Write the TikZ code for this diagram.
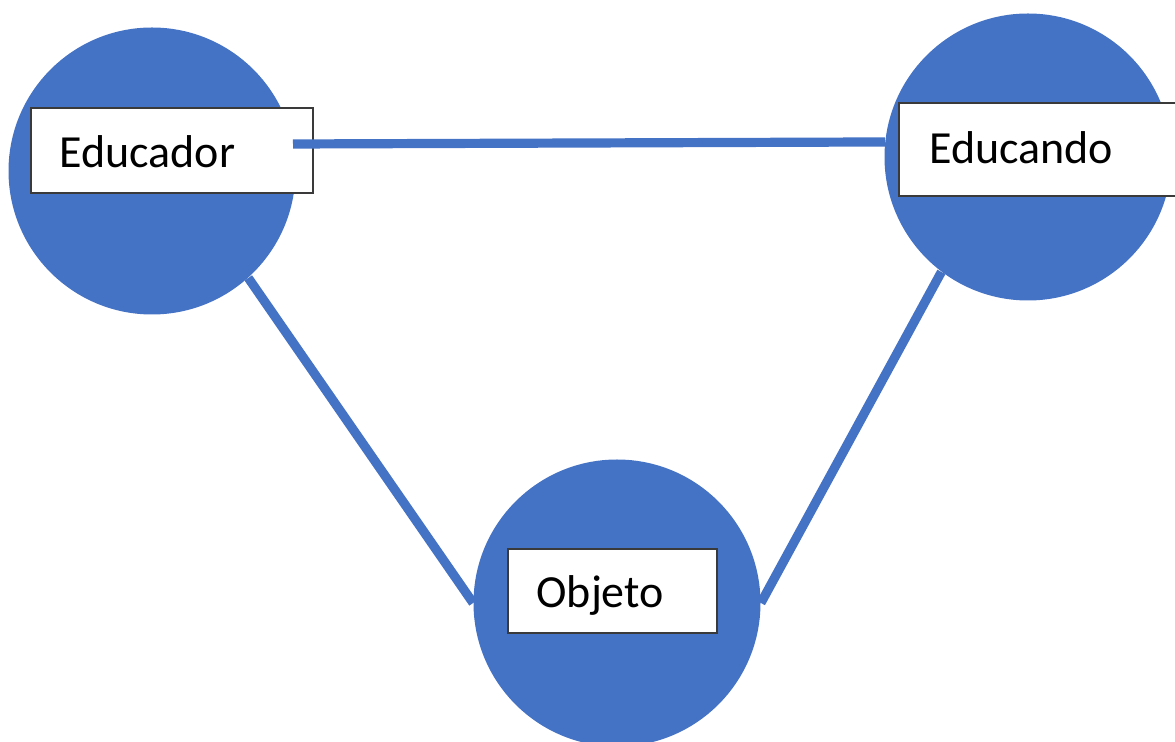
\documentclass[tikz,border=0pt]{standalone}
\usepackage{fontspec}
\setmainfont{Carlito}
\usetikzlibrary{calc}
\definecolor{discblue}{HTML}{4472C4}
\definecolor{boxline}{HTML}{3A3A3A}
\begin{document}
\begin{tikzpicture}[x=0.5pt,y=-0.5pt,
  disc/.style={circle,fill=discblue,draw=none,minimum size=143.5pt,inner sep=0pt},
  labelbox/.style={rectangle,fill=white,draw=boxline,line width=1pt,inner sep=0pt},
  word/.style={anchor=base west,inner sep=0pt,font=\fontsize{23}{27}\selectfont},
  link/.style={draw=discblue,line width=4.6pt}]
  \useasboundingbox (0,0) rectangle (1175,742);

  % the three discs
  \node[disc] (edr) at (152,171) {};
  \node[disc] (edn) at (1028,157) {};
  \node[disc] (obj) at (617,603) {};

  % label boxes
  \node[labelbox,minimum width=141pt,minimum height=42.5pt] (edrbox) at (172,150.5) {};
  \node[labelbox,minimum width=143pt,minimum height=46.5pt] (ednbox) at (1042,149.5) {};
  \node[labelbox,minimum width=104.5pt,minimum height=42pt] (objbox) at (612.5,591) {};

  % label texts
  \node[word] (edrtxt) at ($(edrbox.north west)+(29,61)$) {Educador};
  \node[word] (edntxt) at ($(ednbox.north west)+(31,62)$) {Educando};
  \node[word] (objtxt) at ($(objbox.north west)+(29,60)$) {Objeto};

  % connectors
  \coordinate (hstart) at (293,144);
  \draw[link] (hstart) -- (edn.174.4);
  \draw[link] (edr.-48) -- (obj.west);
  \draw[link] (edn.-127) -- (obj.east);
\end{tikzpicture}
\end{document}
